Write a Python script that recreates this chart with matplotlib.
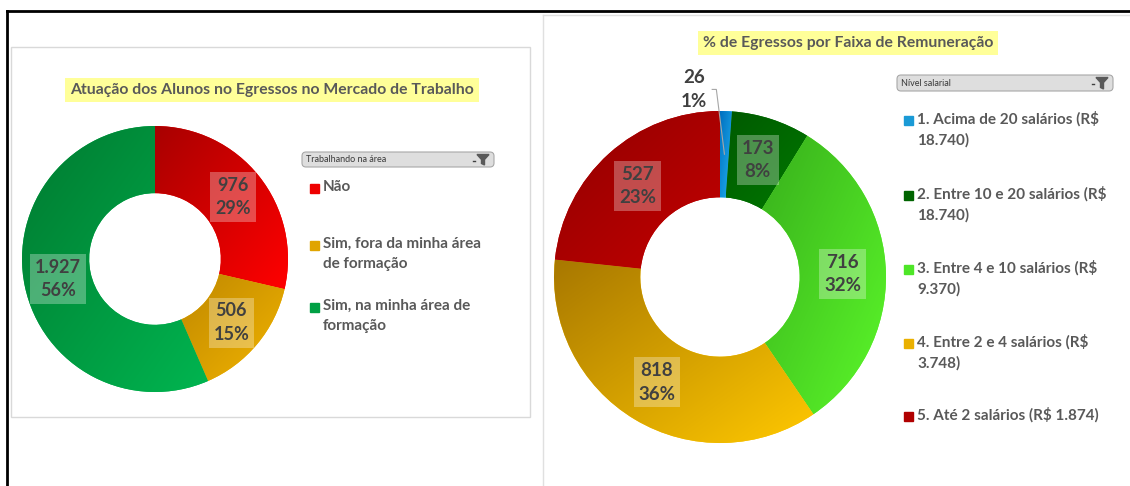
import matplotlib.pyplot as plt
import numpy as np
from matplotlib.colors import LinearSegmentedColormap
from matplotlib.patches import FancyBboxPatch, Rectangle, Polygon

plt.rcParams['font.family'] = ['Lato', 'DejaVu Sans']

W, H = 1130, 486

# left chart: trabalhando na área
area_title = 'Atuação dos Alunos no Egressos no Mercado de Trabalho'
area_labels = ['Não', 'Sim, fora da minha área\nde formação', 'Sim, na minha área de\nformação']
area_values = [976, 506, 1927]
area_pcts = ['29%', '15%', '56%']
area_dark = ['#a80000', '#bf8800', '#007a30']
area_light = ['#ff0000', '#f2b400', '#00b550']
area_legend = ['#ee0000', '#e0a400', '#00a044']

# right chart: faixa de remuneração
faixa_title = '% de Egressos por Faixa de Remuneração'
faixa_labels = ['1. Acima de 20 salários (R$\n18.740)',
                '2. Entre 10 e 20 salários (R$\n18.740)',
                '3. Entre 4 e 10 salários (R$\n9.370)',
                '4. Entre 2 e 4 salários (R$\n3.748)',
                '5. Até 2 salários (R$ 1.874)']
faixa_values = [26, 173, 716, 818, 527]
faixa_pcts = ['1%', '8%', '32%', '36%', '23%']
faixa_dark = ['#0070c0', '#005a00', '#38b01c', '#a87800', '#900000']
faixa_light = ['#20b0f0', '#007800', '#5cf82a', '#ffc800', '#c40000']
faixa_legend = ['#1a9ad6', '#006400', '#4ee628', '#eab000', '#b00000']

TXT = '#595959'
LBL = '#404040'


def fmt(v):
    return f'{v:,}'.replace(',', '.')


fig = plt.figure(figsize=(W / 100, H / 100), dpi=100)
bg = fig.add_axes([0, 0, 1, 1])
bg.set_xlim(0, W)
bg.set_ylim(H, 0)
bg.axis('off')

# frames
bg.plot([7, W], [11, 11], color='black', lw=2)
bg.plot([7, 7], [11, H], color='black', lw=2)
bg.add_patch(Rectangle((11, 47), 519, 370, facecolor='white', edgecolor='#d9d9d9', lw=1))
bg.plot([543, 543], [15, H], color='#e0e0e0', lw=1)
bg.plot([543, W], [15, 15], color='#e0e0e0', lw=1)


def title(cx, cy, s):
    bg.text(cx, cy, s, ha='center', va='center', fontsize=11.3, fontweight='bold',
            color=TXT, bbox=dict(facecolor='#ffff99', edgecolor='none', pad=3.5))


def filter_bar(x, y, w, h, s):
    bg.add_patch(FancyBboxPatch((x, y), w, h, boxstyle='round,pad=0,rounding_size=4',
                                facecolor='#dedede', edgecolor='#a8a8a8', lw=0.8))
    bg.text(x + 4, y + h / 2, s, fontsize=6.5, color='#3a3a3a', va='center')
    fx = x + w - 11
    bg.add_patch(Polygon([(fx - 6, y + 2.5), (fx + 6, y + 2.5), (fx + 1.5, y + 7.5),
                          (fx + 1.5, y + h - 2), (fx - 1.5, y + h - 3.5), (fx - 1.5, y + 7.5)],
                         closed=True, color='#5a5a5a'))
    bg.plot([fx - 10, fx - 8], [y + h / 2 + 1.5, y + h / 2 + 1.5], color='#404040', lw=1)


def legend(x, ys, labels, colors, fs):
    for y, s, c in zip(ys, labels, colors):
        bg.add_patch(Rectangle((x, y - 4.5), 9, 9, color=c))
        bg.text(x + 13, y - 8.5, s, fontsize=fs, fontweight='bold', color=TXT, va='top',
                linespacing=1.55)


grad_n = 120
grad = (np.arange(grad_n)[None, :] + np.arange(grad_n)[:, None]) / (2 * (grad_n - 1))


def donut(cx, cy, r, values, pcts, dark, light, hole, fs, skip=()):
    ax = fig.add_axes([(cx - r) / W, 1 - (cy + r) / H, 2 * r / W, 2 * r / H])
    wedges, _ = ax.pie(values, startangle=90, counterclock=False, radius=1, colors=light,
                       wedgeprops=dict(width=1 - hole, linewidth=0))
    for w, c0, c1 in zip(wedges, dark, light):
        x0, y0, x1, y1 = w.get_path().get_extents().extents
        cmap = LinearSegmentedColormap.from_list('g', [c0, c1])
        img = ax.imshow(grad, cmap=cmap, extent=(x0, x1, y0, y1), origin='upper',
                        interpolation='bilinear', zorder=w.get_zorder())
        img.set_clip_path(w)
    rm = (1 + hole) / 2
    mids = []
    for i, (w, v, p) in enumerate(zip(wedges, values, pcts)):
        a = np.deg2rad((w.theta1 + w.theta2) / 2)
        mids.append((rm * np.cos(a), rm * np.sin(a)))
        if i in skip:
            continue
        ax.text(rm * np.cos(a), rm * np.sin(a), f'{fmt(v)}\n{p}', ha='center', va='center',
                fontsize=fs, fontweight='bold', color=LBL, linespacing=1.45, zorder=5,
                bbox=dict(facecolor='white', alpha=0.3, edgecolor='none', pad=3.5))
    ax.set_xlim(-1, 1)
    ax.set_ylim(-1, 1)
    ax.axis('off')
    return ax, mids


# left chart
title(272, 90, area_title)
filter_bar(302, 152, 192, 15, 'Trabalhando na área')
legend(310, [188, 245, 307], area_labels, area_legend, 11)
donut(155, 259, 133, area_values, area_pcts, area_dark, area_light, 0.495, 13)

# right chart
title(848, 43, faixa_title)
filter_bar(897, 75, 216, 16, 'Nível salarial')
legend(904, [120, 195, 269, 343, 416], faixa_labels, faixa_legend, 11)
ax2, mids2 = donut(720, 277, 166, faixa_values, faixa_pcts, faixa_dark, faixa_light, 0.48, 13.5,
                   skip=(0,))
# small slice label outside with leader line
lx, ly = -0.157, 1.13
ax2.text(lx, ly, f'{fmt(faixa_values[0])}\n{faixa_pcts[0]}', ha='center', va='center',
         fontsize=13.5, fontweight='bold', color=LBL, linespacing=1.5, clip_on=False)
ax2.plot([lx + 0.11, lx + 0.135, mids2[0][0]], [ly, ly, mids2[0][1]],
         color='#a6a6a6', lw=0.8, clip_on=False, zorder=6)

plt.savefig('out.png', dpi=100)
